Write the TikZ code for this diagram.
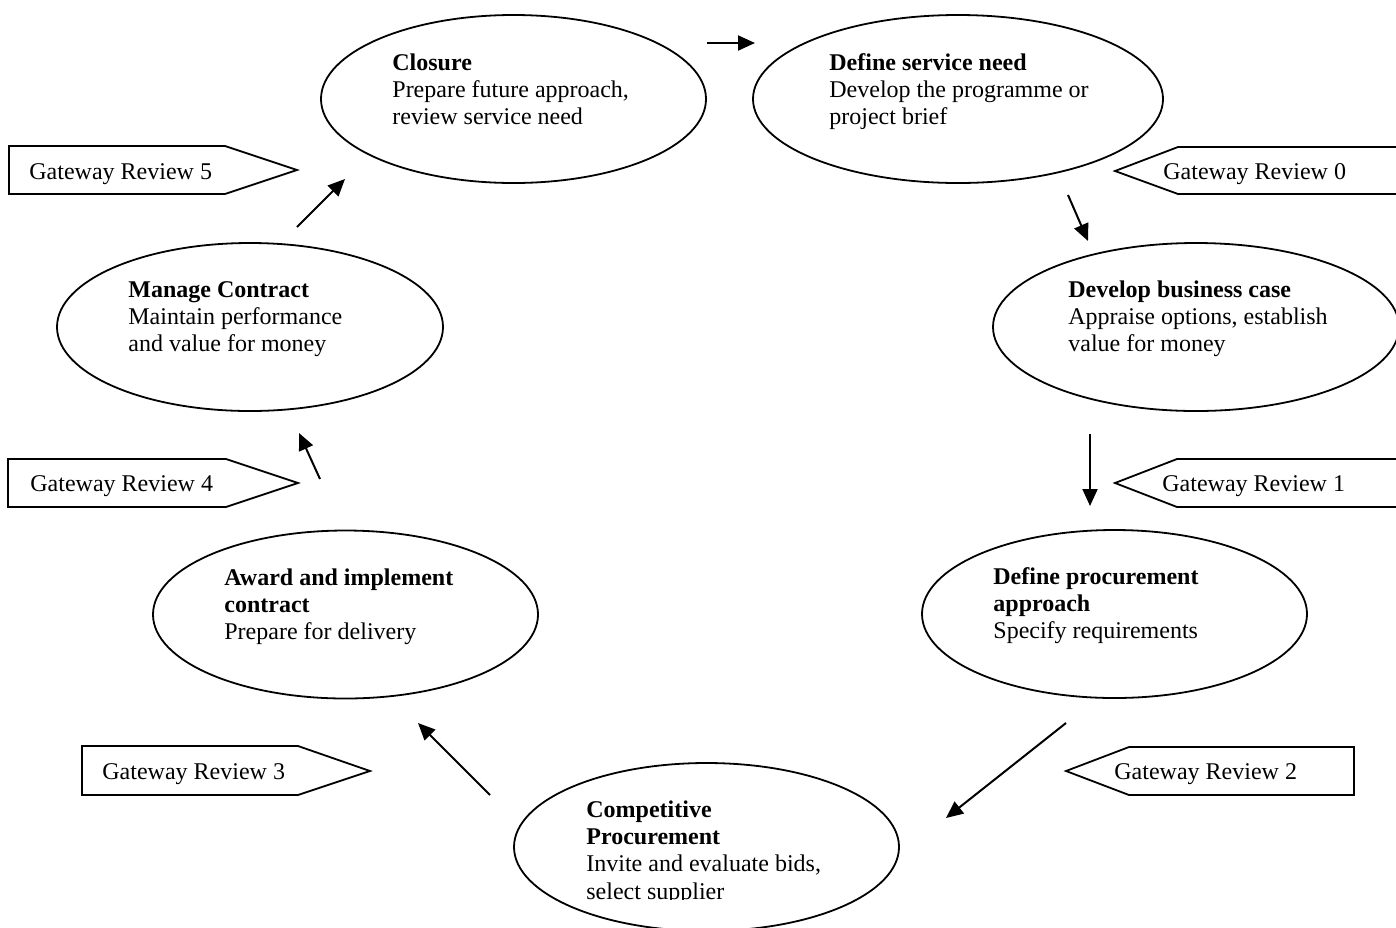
\documentclass[tikz,border=0pt]{standalone}
\usepackage{fontspec}
\setmainfont{Liberation Serif}
\usetikzlibrary{shapes.geometric,arrows.meta}
\tikzset{
  ell/.style={draw, ellipse, line width=0.9pt, inner sep=0pt},
  txt/.style={anchor=base west, inner sep=0pt, font=\fontsize{12}{13.7}\selectfont},
  gbox/.style={draw, line width=0.9pt, line join=miter},
  arr/.style={line width=1pt, -{Triangle[length=8.5pt,width=7.5pt]}}
}
\newcommand{\lines}[1]{\begin{tabular}[t]{@{}l@{}}#1\end{tabular}}
\begin{document}
\begin{tikzpicture}[x=0.5pt,y=-0.5pt]
\clip (0,0) rectangle (1396,927);
% ellipses
\node[ell, minimum width=192.5pt, minimum height=84pt] (closure) at (513.5,99) {};
\node[ell, minimum width=205pt, minimum height=84pt] (define) at (958,99) {};
\node[ell, minimum width=203pt, minimum height=84pt] (business) at (1196,327) {};
\node[ell, minimum width=192.5pt, minimum height=84pt] (procure) at (1114.5,614) {};
\node[ell, minimum width=192.5pt, minimum height=84pt] (compet) at (706.5,847) {};
\node[ell, minimum width=192.5pt, minimum height=84pt] (award) at (345.5,614.5) {};
\node[ell, minimum width=193pt, minimum height=84pt] (manage) at (250,327) {};
% texts
\node[txt] (closureT) at (392,70) {\lines{\textbf{Closure}\\Prepare future approach,\\review service need}};
\node[txt] (defineT) at (829,70) {\lines{\textbf{Define service need}\\Develop the programme or\\project brief}};
\node[txt] (businessT) at (1068,297) {\lines{\textbf{Develop business case}\\Appraise options, establish\\value for money}};
\node[txt] (procureT) at (993,584) {\lines{\textbf{Define procurement}\\\textbf{approach}\\Specify requirements}};
\begin{scope}
\clip (0,0) rectangle (1396,899);
\node[txt] (competT) at (586,817) {\lines{\textbf{Competitive}\\\textbf{Procurement}\\Invite and evaluate bids,\\select supplier}};
\end{scope}
\node[txt] (awardT) at (224,585) {\lines{\textbf{Award and implement}\\\textbf{contract}\\Prepare for delivery}};
\node[txt] (manageT) at (128,297) {\lines{\textbf{Manage Contract}\\Maintain performance\\and value for money}};
% gateway boxes
\draw[gbox] (9,146) -- (225,146) -- (297,170) -- (225,194) -- (9,194) -- cycle;
\node[txt] (g5) at (29,179) {Gateway Review 5};
\draw[gbox] (8,459) -- (226,459) -- (298,483) -- (226,507) -- (8,507) -- cycle;
\node[txt] (g4) at (30,491) {Gateway Review 4};
\draw[gbox] (82,746) -- (298,746) -- (370,771) -- (298,795) -- (82,795) -- cycle;
\node[txt] (g3) at (102,779) {Gateway Review 3};
\draw[gbox] (1115,171) -- (1178,147) -- (1402,147) -- (1402,194) -- (1178,194) -- cycle;
\node[txt] (g0) at (1163,179) {Gateway Review 0};
\draw[gbox] (1115,483) -- (1177,459) -- (1402,459) -- (1402,507) -- (1177,507) -- cycle;
\node[txt] (g1) at (1162,491) {Gateway Review 1};
\draw[gbox] (1066,771) -- (1129,747) -- (1354,747) -- (1354,795) -- (1129,795) -- cycle;
\node[txt] (g2) at (1114,779) {Gateway Review 2};
% arrows
\coordinate (a1s) at (707,43);   \coordinate (a1e) at (755,43);
\coordinate (a2s) at (1068,195); \coordinate (a2e) at (1088,241);
\coordinate (a3s) at (1090,434); \coordinate (a3e) at (1090,506);
\coordinate (a4s) at (1066,723); \coordinate (a4e) at (946,818);
\coordinate (a5s) at (490,795);  \coordinate (a5e) at (418,723);
\coordinate (a6s) at (320,479);  \coordinate (a6e) at (299,433);
\coordinate (a7s) at (297,227);  \coordinate (a7e) at (345,179);
\draw[arr] (a1s) -- (a1e);
\draw[arr] (a2s) -- (a2e);
\draw[arr] (a3s) -- (a3e);
\draw[arr] (a4s) -- (a4e);
\draw[arr] (a5s) -- (a5e);
\draw[arr] (a6s) -- (a6e);
\draw[arr] (a7s) -- (a7e);
\end{tikzpicture}
\end{document}
